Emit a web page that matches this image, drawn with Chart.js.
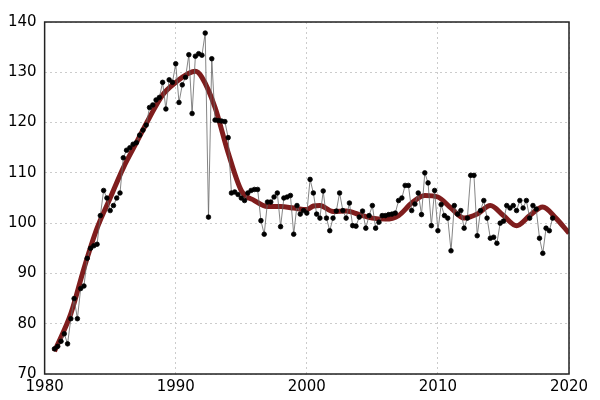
<!DOCTYPE html>
<html>
<head>
<meta charset="utf-8">
<script src="https://cdn.jsdelivr.net/npm/chart.js@4"></script>
<style>
  body { margin: 0; background: #fff; }
</style>
</head>
<body>
<canvas id="c" width="600" height="400"></canvas>
<script>
  // quarterly observations starting 1980.75
  const firstYear = 1980.75;
  const values = [75, 75.5, 76.5, 78, 76, 81, 85, 81, 87, 87.5, 93, 95, 95.5, 95.8, 101.5, 106.5,
    105, 102.5, 103.5, 105, 106, 113, 114.5, 115, 115.7, 116, 117.5, 118.5, 119.5, 123, 123.5, 124.5,
    125, 128, 122.7, 128.5, 128, 131.7, 124, 127.5, 129, 133.5, 121.8, 133.2, 133.7, 133.4, 137.8, 101.2,
    132.7, 120.5, 120.4, 120.3, 120.2, 117, 106, 106.2, 105.7, 105, 104.5, 106, 106.5, 106.7, 106.7, 100.5,
    97.8, 104.2, 104.2, 105.2, 106, 99.3, 105, 105.2, 105.5, 97.8, 103.5, 101.8, 102.5, 102, 108.7, 106,
    101.8, 101, 106.4, 101, 98.5, 101, 102.4, 106, 102.5, 101, 104, 99.5, 99.4, 101.2, 102.4, 99,
    101.5, 103.5, 99, 100.2, 101.5, 101.5, 101.7, 101.8, 102, 104.5, 105, 107.5, 107.5, 102.5, 103.8, 106,
    101.7, 110, 108, 99.5, 106.5, 98.5, 103.7, 101.5, 101, 94.5, 103.5, 101.8, 102.5, 99, 101, 109.5,
    109.5, 97.5, 102.5, 104.5, 101, 97, 97.2, 96, 100, 100.4, 103.5, 103, 103.5, 102.5, 104.5, 103,
    104.5, 101, 103.5, 102.8, 97, 94, 99, 98.5, 101];

  // smoothed trend
  const trendYears = [1980.75, 1982, 1983, 1984, 1985, 1986, 1987, 1988, 1989, 1990, 1991, 1991.5, 1992,
    1993, 1994, 1995, 1996, 1997, 1998, 1999, 2000, 2000.5, 2001, 2002, 2003, 2004, 2005, 2006, 2007,
    2008, 2009, 2010, 2011, 2012, 2013, 2014, 2015, 2016, 2017, 2018, 2019, 2020];
  const trendValues = [74.5, 82, 91, 99, 105, 111, 116, 121, 125.5, 128, 129.8, 130.2, 129,
    123, 114, 106.5, 104.5, 103.3, 103.3, 103, 102.7, 103.4, 103.5, 102.3, 102.4, 101.7, 101, 100.8, 101.5,
    104, 105.5, 105.2, 103, 101, 101.8, 103.5, 101.5, 99.5, 101.5, 103.2, 101, 98];

  const xTicks = [1980, 1990, 2000, 2010, 2020];

  const obsPoints = values.map((v, i) => ({ x: firstYear + i / 4, y: v }));
  const trendPoints = trendYears.map((x, i) => ({ x: x, y: trendValues[i] }));

  const frame = {
    id: "frame",
    afterDraw(chart) {
      const a = chart.chartArea, ctx = chart.ctx;
      ctx.save();
      ctx.strokeStyle = "#222";
      ctx.lineWidth = 1.5;
      ctx.strokeRect(a.left, a.top, a.right - a.left, a.bottom - a.top);
      ctx.restore();
    }
  };

  Chart.defaults.font.family = "DejaVu Sans";
  Chart.defaults.font.size = 15;
  Chart.defaults.color = "#000";

  new Chart(document.getElementById("c"), {
    type: "line",
    data: {
      datasets: [
        {
          data: trendPoints,
          borderColor: "#7f1d1d",
          borderWidth: 5,
          pointRadius: 0,
          cubicInterpolationMode: "monotone",
          order: 2
        },
        {
          data: obsPoints,
          borderColor: "#666",
          borderWidth: 0.8,
          pointRadius: 2.3,
          pointBackgroundColor: "#000",
          pointBorderColor: "#000",
          tension: 0,
          order: 1
        }
      ]
    },
    options: {
      responsive: false,
      animation: false,
      devicePixelRatio: 1,
      layout: { padding: { top: 22, right: 31, bottom: 0, left: 0 } },
      plugins: { legend: { display: false }, tooltip: { enabled: false } },
      scales: {
        x: {
          type: "linear",
          min: 1980, max: 2020,
          afterBuildTicks: (s) => { s.ticks = xTicks.map(v => ({ value: v })); },
          ticks: { callback: v => String(v), maxRotation: 0, padding: 4, autoSkip: false },
          grid: { color: "#ccc", drawTicks: false },
          border: { display: false, dash: [2, 3] }
        },
        y: {
          min: 70, max: 140,
          ticks: { stepSize: 10, padding: 8, autoSkip: false },
          grid: { color: "#ccc", drawTicks: false },
          border: { display: false, dash: [2, 3] }
        }
      }
    },
    plugins: [frame]
  });
</script>
</body>
</html>
